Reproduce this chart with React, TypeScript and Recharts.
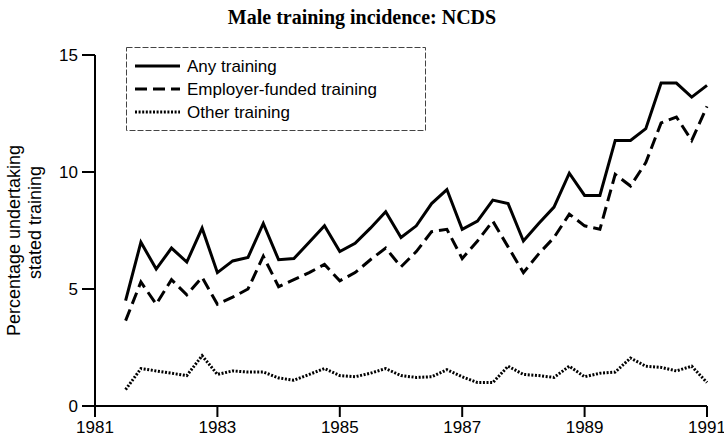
import { Line, LineChart, XAxis, YAxis } from "recharts";

// Quarterly incidence of training among NCDS men, 1981.5 - 1991
const quarters = [
  1981.5, 1981.75, 1982, 1982.25, 1982.5, 1982.75, 1983, 1983.25, 1983.5, 1983.75,
  1984, 1984.25, 1984.5, 1984.75, 1985, 1985.25, 1985.5, 1985.75, 1986, 1986.25,
  1986.5, 1986.75, 1987, 1987.25, 1987.5, 1987.75, 1988, 1988.25, 1988.5, 1988.75,
  1989, 1989.25, 1989.5, 1989.75, 1990, 1990.25, 1990.5, 1990.75, 1991,
];

const anyTraining = [
  4.5, 7.0, 5.85, 6.75, 6.15, 7.6, 5.7, 6.2, 6.35, 7.8,
  6.25, 6.3, 7.0, 7.7, 6.6, 6.95, 7.6, 8.3, 7.2, 7.7,
  8.65, 9.25, 7.55, 7.9, 8.8, 8.65, 7.05, 7.8, 8.5, 9.95,
  9.0, 9.0, 11.35, 11.35, 11.85, 13.8, 13.8, 13.2, 13.7,
];

const employerFunded = [
  3.65, 5.3, 4.35, 5.4, 4.75, 5.5, 4.35, 4.65, 5.0, 6.4,
  5.1, 5.4, 5.7, 6.05, 5.35, 5.7, 6.25, 6.75, 5.95, 6.6,
  7.45, 7.55, 6.3, 7.05, 7.9, 6.8, 5.7, 6.5, 7.2, 8.2,
  7.7, 7.55, 9.9, 9.4, 10.4, 12.1, 12.35, 11.35, 12.8,
];

const otherTraining = [
  0.7, 1.6, 1.5, 1.4, 1.3, 2.15, 1.35, 1.5, 1.45, 1.45,
  1.2, 1.1, 1.35, 1.6, 1.3, 1.25, 1.4, 1.6, 1.3, 1.22,
  1.25, 1.55, 1.25, 1.0, 1.0, 1.7, 1.35, 1.3, 1.22, 1.7,
  1.25, 1.4, 1.45, 2.05, 1.7, 1.65, 1.5, 1.7, 1.0,
];

const yearTicks = [1981, 1983, 1985, 1987, 1989, 1991];
const pctTicks = [0, 5, 10, 15];

const data = quarters.map((q, i) => ({
  q,
  any: anyTraining[i],
  employer: employerFunded[i],
  other: otherTraining[i],
}));

const FONT = "'Liberation Sans', Arial, sans-serif";

// two-line rotated axis title (lines are not centred on each other in the original)
function YLabel({ viewBox }: any) {
  const cy = viewBox.y + viewBox.height / 2;
  return (
    <g transform="rotate(-90)">
      <text x={-(cy + 10)} y={20} textAnchor="middle" fontSize={18} fontFamily={FONT} fill="#000">
        Percentage undertaking
      </text>
      <text x={-(cy - 8)} y={41} textAnchor="middle" fontSize={18} fontFamily={FONT} fill="#000">
        stated training
      </text>
    </g>
  );
}

function LegendBox() {
  const rows = [
    { label: "Any training", dash: undefined },
    { label: "Employer-funded training", dash: "12 6" },
    { label: "Other training", dash: "2 1.6" },
  ];
  return (
    <svg width={300} height={84} style={{ position: "absolute", left: 126, top: 47 }}>
      <rect x={0.5} y={0.5} width={299} height={83} fill="#fff" stroke="#444" strokeDasharray="6 2" />
      {rows.map((r, i) => (
        <g key={r.label}>
          <line x1={9} x2={54} y1={19 + i * 23} y2={19 + i * 23} stroke="#000" strokeWidth={3} strokeDasharray={r.dash} />
          <text x={61} y={25 + i * 23} fontSize={17} fontFamily={FONT} fill="#000">
            {r.label}
          </text>
        </g>
      ))}
    </svg>
  );
}

export default function App() {
  return (
    <div style={{ position: "absolute", left: 0, top: 0, width: 724, height: 443, background: "#fff" }}>
      <div
        style={{
          position: "absolute",
          left: 0,
          width: 724,
          top: 6,
          textAlign: "center",
          fontFamily: "'Liberation Serif', 'Times New Roman', serif",
          fontWeight: 700,
          fontSize: 20,
        }}
      >
        Male training incidence: NCDS
      </div>
      <LineChart width={724} height={443} data={data} margin={{ top: 55, right: 17, left: 0, bottom: 0 }}>
        <XAxis
          dataKey="q"
          type="number"
          domain={[1981, 1991]}
          ticks={yearTicks}
          height={37}
          tickSize={11}
          tickMargin={4}
          axisLine={{ stroke: "#000", strokeWidth: 2 }}
          tickLine={{ stroke: "#000", strokeWidth: 2 }}
          tick={{ fontSize: 17, fill: "#000", fontFamily: FONT }}
        />
        <YAxis
          domain={[0, 15]}
          ticks={pctTicks}
          width={95}
          tickSize={13}
          tickMargin={4}
          axisLine={{ stroke: "#000", strokeWidth: 2 }}
          tickLine={{ stroke: "#000", strokeWidth: 2 }}
          tick={{ fontSize: 17, fill: "#000", fontFamily: FONT }}
          label={<YLabel />}
        />
        <Line dataKey="any" stroke="#000" strokeWidth={3} dot={false} isAnimationActive={false} />
        <Line dataKey="employer" stroke="#000" strokeWidth={3} strokeDasharray="12 6" dot={false} isAnimationActive={false} />
        <Line dataKey="other" stroke="#000" strokeWidth={3} strokeDasharray="2 1.6" dot={false} isAnimationActive={false} />
      </LineChart>
      <LegendBox />
    </div>
  );
}
